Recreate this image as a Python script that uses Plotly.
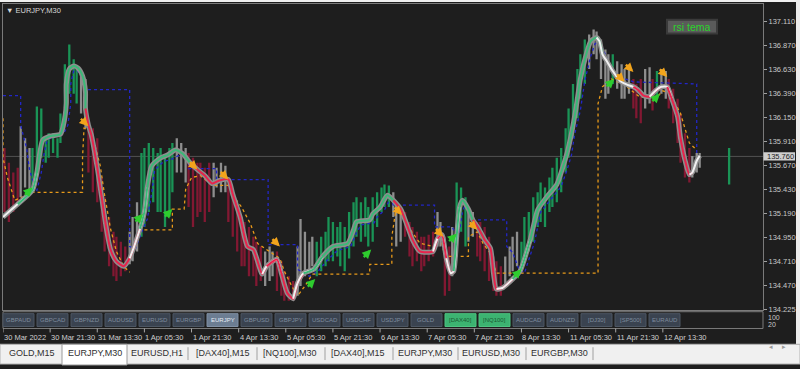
import plotly.graph_objects as go

# ---------------- data ----------------
# smoothed (TEMA-like) line: bar index / price
line_idx = [0, 10, 20, 23, 25, 27, 32, 39, 41, 43,
            43, 45, 48, 51, 54, 56, 56, 58, 60, 64,
            67, 70, 73, 77, 82, 86, 89, 93, 96, 98,
            101, 107, 112, 117, 122, 127, 132, 137, 142, 147,
            153, 156, 161, 166, 170, 176, 179, 186, 189, 193,
            197, 200, 204, 211, 217, 224, 234, 238, 240, 249,
            251, 256, 261, 265, 270, 274, 278, 283, 292, 295,
            298, 301, 304, 306, 308, 310, 312, 316, 319, 323,
            327, 331, 333, 335, 339, 346, 351, 358, 363, 369,
            376, 380, 383, 386, 389, 392, 396, 399, 403, 405,
            407, 410, 414, 419, 424, 428, 431, 435, 439, 443,
            447, 451, 454, 458, 460, 463, 466, 468, 471, 473]
line_price = [135.153, 135.282, 135.420, 135.598, 135.795, 135.924, 135.963, 135.983, 136.072, 136.289,
              136.487, 136.635, 136.665, 136.645, 136.566, 136.408, 136.240, 136.072, 135.973, 135.647,
              135.351, 135.055, 134.827, 134.709, 134.660, 134.739, 134.857, 135.035, 135.203, 135.450,
              135.667, 135.746, 135.776, 135.825, 135.786, 135.697, 135.628, 135.568, 135.489, 135.519,
              135.529, 135.381, 135.153, 134.857, 134.827, 134.581, 134.660, 134.729, 134.590, 134.393,
              134.334, 134.492, 134.590, 134.630, 134.758, 134.857, 134.887, 135.025, 135.104, 135.124,
              135.183, 135.252, 135.371, 135.321, 135.232, 135.084, 134.926, 134.808, 134.808, 134.936,
              134.976, 134.739, 134.590, 134.610, 134.956, 135.252, 135.321, 135.232, 135.124, 135.035,
              134.926, 134.837, 134.590, 134.432, 134.442, 134.531, 134.610, 134.926, 135.223, 135.351,
              135.479, 135.647, 135.795, 135.993, 136.240, 136.536, 136.783, 136.912, 136.951, 136.912,
              136.783, 136.714, 136.615, 136.516, 136.477, 136.457, 136.428, 136.368, 136.358, 136.418,
              136.457, 136.457, 136.339, 136.161, 135.944, 135.726, 135.578, 135.598, 135.716, 135.766]
# trend state segments of the line (start bar, state)
seg_start = [0, 20, 58, 89, 96, 132, 179, 186, 200, 211, 270, 295, 298, 304, 308, 323, 339, 351, 405, 429, 443, 452, 467]
seg_state = ['w', 'g', 'r', 'w', 'g', 'r', 'w', 'r', 'w', 'g', 'r', 'w', 'r', 'w', 'g', 'r', 'w', 'g', 'w', 'r', 'w', 'r', 'w']

# coloured high-low bars
bar_idx = [1, 4, 7, 10, 12, 15, 18, 20, 23, 26, 29, 31, 34, 37, 39, 42, 45, 48, 50, 53,
           56, 58, 61, 64, 67, 69, 72, 75, 77, 80, 83, 86, 88, 91, 94, 96, 99, 102, 105, 107,
           110, 113, 115, 118, 121, 124, 126, 129, 132, 134, 137, 140, 143, 145, 148, 151, 153, 156, 159, 162,
           164, 167, 170, 172, 175, 178, 181, 183, 186, 189, 191, 194, 197, 200, 202, 205, 208, 210, 213, 216,
           219, 221, 224, 227, 229, 232, 235, 238, 240, 243, 246, 248, 251, 254, 257, 259, 262, 265, 267, 270,
           273, 276, 278, 281, 284, 286, 289, 292, 295, 297, 300, 303, 305, 308, 311, 314, 316, 319, 322, 324,
           327, 330, 333, 335, 338, 341, 344, 346, 349, 352, 354, 357, 360, 363, 365, 368, 371, 373, 376, 379,
           382, 384, 387, 390, 392, 395, 398, 401, 403, 406, 409, 411, 414, 417, 420, 422, 425, 428, 430, 433,
           436, 439, 441, 444, 447, 450, 452, 455, 458, 460, 463, 466, 468, 471, 473, 493]
bar_high = [135.844, 135.696, 135.598, 135.647, 136.062, 135.943, 135.844, 135.844, 136.259, 136.239,
            135.943, 135.992, 135.992, 135.943, 136.190, 136.684, 136.882, 136.733, 136.635, 136.615,
            136.536, 136.091, 136.042, 135.943, 135.548, 135.351, 135.153, 135.005, 134.956, 134.906,
            134.857, 135.005, 135.153, 135.301, 135.795, 135.844, 135.894, 135.844, 135.795, 135.844,
            135.746, 135.844, 135.894, 135.943, 135.894, 135.844, 135.795, 135.746, 135.696, 135.696,
            135.647, 135.696, 135.696, 135.647, 135.696, 135.667, 135.548, 135.400, 135.252, 135.153,
            135.104, 135.054, 134.956, 134.906, 134.857, 134.807, 134.857, 134.807, 134.807, 134.709,
            134.610, 134.560, 134.511, 134.857, 135.133, 135.005, 134.906, 134.956, 134.906, 134.956,
            135.005, 135.153, 135.104, 135.054, 135.104, 135.054, 135.202, 135.301, 135.351, 135.301,
            135.351, 135.252, 135.351, 135.400, 135.449, 135.479, 135.469, 135.400, 135.301, 135.252,
            135.202, 135.104, 135.054, 135.005, 134.956, 134.956, 134.975, 135.005, 135.202, 135.104,
            134.956, 134.857, 135.054, 135.499, 135.449, 135.351, 135.202, 135.202, 135.104, 135.104,
            135.054, 134.956, 134.758, 134.709, 134.659, 134.758, 134.857, 134.956, 135.005, 134.906,
            135.153, 135.202, 135.351, 135.400, 135.499, 135.449, 135.548, 135.647, 135.746, 135.844,
            136.042, 136.239, 136.486, 136.635, 136.783, 136.931, 136.980, 137.030, 137.010, 136.931,
            136.832, 136.783, 136.783, 136.714, 136.684, 136.635, 136.635, 136.536, 136.486, 136.536,
            136.635, 136.654, 136.536, 136.615, 136.635, 136.615, 136.536, 136.437, 136.338, 136.190,
            135.992, 135.844, 135.765, 135.795, 135.795, 135.844]
bar_low = [135.202, 135.104, 135.202, 135.301, 135.351, 135.449, 135.400, 135.400, 135.548, 135.746,
           135.696, 135.746, 135.795, 135.746, 135.894, 136.239, 136.388, 136.388, 136.289, 136.190,
           136.042, 135.598, 135.400, 135.301, 135.005, 134.807, 134.659, 134.560, 134.511, 134.560,
           134.610, 134.679, 134.709, 134.807, 134.956, 135.054, 135.202, 135.301, 135.202, 135.202,
           135.054, 135.153, 135.400, 135.598, 135.598, 135.499, 135.252, 135.054, 135.153, 135.202,
           135.104, 135.202, 135.351, 135.449, 135.400, 135.400, 135.104, 134.956, 134.807, 134.659,
           134.659, 134.560, 134.560, 134.462, 134.511, 134.462, 134.511, 134.560, 134.412, 134.363,
           134.314, 134.314, 134.314, 134.363, 134.462, 134.560, 134.610, 134.659, 134.560, 134.610,
           134.659, 134.709, 134.709, 134.758, 134.659, 134.610, 134.738, 134.857, 134.956, 134.906,
           134.956, 134.857, 134.906, 135.054, 135.202, 135.252, 135.252, 135.153, 134.857, 134.906,
           134.956, 134.758, 134.659, 134.709, 134.610, 134.659, 134.709, 134.758, 134.857, 134.857,
           134.363, 134.412, 134.560, 134.956, 135.005, 134.857, 134.906, 134.956, 134.758, 134.709,
           134.610, 134.511, 134.412, 134.363, 134.363, 134.462, 134.560, 134.610, 134.659, 134.610,
           134.709, 134.807, 134.906, 135.054, 135.104, 135.054, 135.202, 135.252, 135.301, 135.400,
           135.598, 135.746, 135.943, 136.141, 136.338, 136.486, 136.635, 136.783, 136.733, 136.536,
           136.338, 136.388, 136.486, 136.437, 136.338, 136.338, 136.388, 136.239, 136.141, 136.091,
           136.239, 136.289, 136.220, 136.338, 136.388, 136.338, 136.239, 136.091, 135.894, 135.696,
           135.548, 135.499, 135.548, 135.598, 135.647, 135.479]
bar_col = list("rrrrwwwggggggggggggw"
               "wrrrrrrrrrrwwwgggggg"
               "gggwwwrrrrrrwwwwrrrr"
               "rrrrrwwwrrrrrwwwwwgg"
               "gggggggggggggggggwww"
               "rrrrrrrrwwrrwgggwwrr"
               "rrrrrwwwwggggggggggg"
               "ggggggwwwwwwgwwwwrrr"
               "wwrgwwrrrrrrwwwg")

# dotted band lines (None = gap)
blue_idx = [0, 12, 12, 16, 18, 22, 23, 26, 28, 30, 35, 41, 44, 46, 46, 48, 50, 53, 56, 86,
            86, 90, 94, 98, 101, 103, 109, 115, 120, 126, 126, 145, 145, 180, 180, 200, 200, 208, 214, 220,
            227, 236, 240, 243, 252, 254, 259, 263, 265, 293, 293, 305, 309, 312, 314, 317, 319, 342, 342, 346,
            350, 354, 361, 365, 372, 379, 383, 386, 388, 392, 395, 399, 402, 405, 408, 413, 419, 428, 471, 471]
blue_price = [136.368, 136.368, 136.072, 135.844, 135.627, 135.430, 135.420, 135.598, 135.795, 135.923,
              135.963, 135.983, 136.072, 136.289, 136.486, 136.615, 136.625, 136.575, 136.428, 136.428,
              134.857, 134.837, 134.995, 135.133, 135.400, 135.627, 135.706, 135.736, 135.775, 135.746,
              135.637, 135.637, 135.528, 135.528, 134.876, 134.876, 134.629, 134.560, 134.610, 134.718,
              134.817, 134.857, 134.995, 135.074, 135.094, 135.153, 135.222, 135.341, 135.272, 135.272,
              135.054, 135.054, 134.936, 135.202, 135.291, 135.212, 135.124, 135.124, 134.857, 134.798,
              134.640, 134.590, 134.906, 135.202, 135.331, 135.459, 135.627, 135.775, 135.973, 136.220,
              136.516, 136.763, 136.891, 136.911, 136.812, 136.635, 136.556, 136.506, 136.486, 135.795]
orange_idx = [0, 0, 3, 8, 13, 20, 54, 54, 55, 59, 62, 66, 69, 73, 77, 82, 86, None,
              96, 115, 115, 123, 124, 128, 134, 142, 153, 157, 162, 168, 173, 181, 188, 191, 196, 200,
              205, 210, 249, 249, 264, 264, 267, 270, 274, 283, 292, 297, 300, 316, 316, 322, 326, 331,
              335, 404, 404, 407, 413, 422, 432, 443, 448, 453, 460, 466, 471]
orange_price = [136.141, 135.746, 135.548, 135.321, 135.351, 135.400, 135.400, 135.746, 136.042, 136.022,
                135.894, 135.667, 135.370, 135.035, 134.807, 134.659, 134.600, None,
                135.025, 135.025, 135.232, 135.232, 135.430, 135.548, 135.568, 135.469, 135.469, 135.351,
                135.252, 135.084, 134.886, 134.807, 134.738, 134.610, 134.462, 134.363, 134.462, 134.580,
                134.580, 134.679, 134.679, 134.956, 135.252, 135.178, 135.079, 134.892, 134.857, 134.956,
                134.758, 134.758, 134.956, 135.005, 134.887, 134.788, 134.590, 134.590, 136.289, 136.457,
                136.536, 136.477, 136.358, 136.338, 136.417, 136.388, 136.190, 135.894, 135.825]

# signal arrows
sell_idx = [58, 132, 153, 188, 271, 299, 322, 422, 428, 451]
sell_price = [136.062, 135.628, 135.529, 134.857, 135.173, 134.956, 135.025, 136.507, 136.605, 136.556]
buy_idx = [20, 95, 115, 212, 250, 308, 352, 415, 446]
buy_price = [135.450, 135.183, 135.232, 134.531, 134.827, 134.986, 134.630, 136.536, 136.388]

bid_price = 135.760
price_ticks = [137.110, 136.870, 136.630, 136.390, 136.150, 135.910, 135.670,
               135.430, 135.190, 134.950, 134.710, 134.470, 134.225]
date_idx = [0, 32, 64, 96, 128, 160, 192, 224, 256, 288, 320, 352, 384, 416, 448]
date_labels = ["30 Mar 2022", "30 Mar 21:30", "31 Mar 13:30", "1 Apr 05:30", "1 Apr 21:30",
               "4 Apr 13:30", "5 Apr 05:30", "5 Apr 21:30", "6 Apr 13:30", "7 Apr 05:30",
               "7 Apr 21:30", "8 Apr 13:30", "11 Apr 05:30", "11 Apr 21:30", "12 Apr 13:30"]
buttons = ["GBPAUD", "GBPCAD", "GBPNZD", "AUDUSD", "EURUSD", "EURGBP", "EURJPY", "GBPUSD",
           "GBPJPY", "USDCAD", "USDCHF", "USDJPY", "GOLD", "[DAX40]", "[NQ100]", "AUDCAD",
           "AUDNZD", "[DJ30]", "[SP500]", "EURAUD"]
tabs = ["GOLD,M15", "EURJPY,M30", "EURUSD,H1", "[DAX40],M15", "[NQ100],M30",
        "[DAX40],M15", "EURJPY,M30", "EURUSD,M30", "EURGBP,M30"]

# ---------------- layout helpers ----------------
W, H = 800, 369
FONT = "Liberation Sans"
def px(x):
    return x / W
def py(y):
    return 1 - y / H

fig = go.Figure()

# bars
bar_colors = {'r': '#821832', 'g': '#1a9456', 'w': '#8e8e8e'}
for c, col in bar_colors.items():
    xs, ys = [], []
    for i, hi, lo, s in zip(bar_idx, bar_high, bar_low, bar_col):
        if s == c:
            xs += [i, i, None]
            ys += [lo, hi, None]
    fig.add_trace(go.Scatter(x=xs, y=ys, mode='lines', line=dict(color=col, width=2.3),
                             hoverinfo='skip', showlegend=False))

# dotted bands
fig.add_trace(go.Scatter(x=blue_idx, y=blue_price, mode='lines',
                         line=dict(color='#2226c8', width=1.3, dash='dot'),
                         hoverinfo='skip', showlegend=False))
fig.add_trace(go.Scatter(x=orange_idx, y=orange_price, mode='lines', connectgaps=False,
                         line=dict(color='#e89a1a', width=1.3, dash='dot'),
                         hoverinfo='skip', showlegend=False))

# thick smoothed line: grey outline then coloured core per segment
fig.add_trace(go.Scatter(x=line_idx, y=line_price, mode='lines',
                         line=dict(color='#8e8e8e', width=5, shape='spline', smoothing=0.6),
                         hoverinfo='skip', showlegend=False))
core_colors = {'w': '#f0f0f0', 'g': '#3cb878', 'r': '#e8234c'}
seg_end = seg_start[1:] + [10 ** 6]
for s0, s1, st in zip(seg_start, seg_end, seg_state):
    pts = [(i, p) for i, p in zip(line_idx, line_price) if s0 <= i <= s1]
    prev = [(i, p) for i, p in zip(line_idx, line_price) if i < s0]
    if prev:
        pts = [prev[-1]] + pts
    nxt = [(i, p) for i, p in zip(line_idx, line_price) if i > s1]
    if nxt:
        pts = pts + [nxt[0]]
    if len(pts) < 2:
        continue
    fig.add_trace(go.Scatter(x=[a for a, _ in pts], y=[b for _, b in pts], mode='lines',
                             line=dict(color=core_colors[st], width=2, shape='spline', smoothing=0.6),
                             hoverinfo='skip', showlegend=False))

shapes = []
annotations = []

# signal arrows (short arrows pointing to the signal point)
for i, p in zip(sell_idx, sell_price):
    annotations.append(dict(xref='x', yref='y', x=i, y=p, text='', showarrow=True,
                            ax=-9, ay=-9, arrowhead=2, arrowsize=0.75, arrowwidth=2.4,
                            arrowcolor='#f2a41c', standoff=0))
for i, p in zip(buy_idx, buy_price):
    annotations.append(dict(xref='x', yref='y', x=i, y=p, text='', showarrow=True,
                            ax=-9, ay=9, arrowhead=2, arrowsize=0.75, arrowwidth=2.4,
                            arrowcolor='#2ecc2e', standoff=0))

# bid line and price label
shapes.append(dict(type='line', xref='x', yref='y', x0=0, x1=516, y0=bid_price, y1=bid_price,
                   line=dict(color='#525252', width=1), layer='below'))
shapes.append(dict(type='rect', xref='paper', yref='y', x0=px(763.5), x1=px(795),
                   y0=bid_price - 0.042, y1=bid_price + 0.042,
                   fillcolor='#cfcfcf', line=dict(width=0)))
annotations.append(dict(xref='paper', yref='y', x=px(765), y=bid_price, text=f"{bid_price:.3f}",
                        xanchor='left', yanchor='middle', showarrow=False,
                        font=dict(family=FONT, size=7.5, color='#202020')))

# outer window chrome
shapes.append(dict(type='rect', xref='paper', yref='paper', x0=0, x1=1, y0=py(2), y1=1,
                   fillcolor='#f0f0f0', line=dict(width=0)))
shapes.append(dict(type='rect', xref='paper', yref='paper', x0=px(796), x1=1, y0=py(349), y1=1,
                   fillcolor='#ececec', line=dict(width=0)))
shapes.append(dict(type='rect', xref='paper', yref='paper', x0=0, x1=1, y0=0, y1=py(349),
                   fillcolor='#f0f0f0', line=dict(color='#b4b4b4', width=1)))
shapes.append(dict(type='rect', xref='paper', yref='paper', x0=px(62), x1=px(127), y0=py(370), y1=py(349),
                   fillcolor='#ffffff', line=dict(color='#9a9a9a', width=1)))

# sub window
shapes.append(dict(type='rect', xref='paper', yref='paper', x0=px(3), x1=px(763), y0=py(333), y1=py(316),
                   fillcolor='rgba(0,0,0,0)', line=dict(color='#7a7a7a', width=1)))
annotations.append(dict(xref='paper', yref='paper', x=px(766), y=py(322), text="100", xanchor='left',
                        yanchor='middle', showarrow=False, font=dict(family=FONT, size=7, color='#c8c8c8')))
annotations.append(dict(xref='paper', yref='paper', x=px(766), y=py(329), text="20", xanchor='left',
                        yanchor='middle', showarrow=False, font=dict(family=FONT, size=7, color='#c8c8c8')))

# symbol buttons
for i, name in enumerate(buttons):
    x0 = 3 + 34 * i
    fill, txt, brd = '#3a4350', '#7f8c9e', '#4c5663'
    if name == 'EURJPY':
        fill, txt, brd = '#6c7d92', '#e4ecf4', '#8090a4'
    if name in ('[DAX40]', '[NQ100]'):
        fill, txt, brd = '#3cb371', '#1d5a34', '#4cc381'
    shapes.append(dict(type='rect', xref='paper', yref='paper', x0=px(x0), x1=px(x0 + 31),
                       y0=py(331), y1=py(318), fillcolor=fill, line=dict(color=brd, width=1)))
    annotations.append(dict(xref='paper', yref='paper', x=px(x0 + 15.5), y=py(324.5), text=name,
                            xanchor='center', yanchor='middle', showarrow=False,
                            font=dict(family=FONT, size=6, color=txt)))

# date axis labels + ticks
for i, lab in zip(date_idx, date_labels):
    shapes.append(dict(type='line', xref='x', yref='paper', x0=i, x1=i, y0=py(337), y1=py(333),
                       line=dict(color='#a8a8a8', width=1)))
    annotations.append(dict(xref='x', yref='paper', x=i, y=py(342), text=lab, xanchor='left',
                            yanchor='middle', xshift=-1, showarrow=False,
                            font=dict(family=FONT, size=7.5, color='#cfcfcf')))

# title & rsi tema button
annotations.append(dict(xref='paper', yref='paper', x=px(4), y=py(11), text="▼ EURJPY,M30",
                        xanchor='left', yanchor='middle', showarrow=False,
                        font=dict(family=FONT, size=7.5, color='#d8d8d8')))
shapes.append(dict(type='rect', xref='paper', yref='paper', x0=px(667), x1=px(717), y0=py(34), y1=py(20),
                   fillcolor='#5a5a5a', line=dict(color='#3a3a3a', width=2)))
annotations.append(dict(xref='paper', yref='paper', x=px(692), y=py(27), text="rsi tema",
                        xanchor='center', yanchor='middle', showarrow=False,
                        font=dict(family=FONT, size=10.5, color='#2bd42b')))

# tab bar
tab_x = [32, 95, 157, 223, 290, 358, 425, 491, 559]
for t, x in zip(tabs, tab_x):
    annotations.append(dict(xref='paper', yref='paper', x=px(x), y=py(358), text=t,
                            xanchor='center', yanchor='middle', showarrow=False,
                            font=dict(family=FONT, size=9, color='#303030')))
for x in [188, 257, 325, 393, 458, 526, 593]:
    shapes.append(dict(type='line', xref='paper', yref='paper', x0=px(x), x1=px(x), y0=py(365), y1=py(352),
                       line=dict(color='#a0a0a0', width=1)))
annotations.append(dict(xref='paper', yref='paper', x=px(775), y=py(358), text="◂", showarrow=False,
                        font=dict(family="DejaVu Sans", size=7, color='#9a9a9a')))
annotations.append(dict(xref='paper', yref='paper', x=px(788), y=py(358), text="▸", showarrow=False,
                        font=dict(family="DejaVu Sans", size=7, color='#9a9a9a')))

fig.update_layout(
    width=W, height=H, margin=dict(l=0, r=0, t=0, b=0),
    paper_bgcolor='#1e1e1e', plot_bgcolor='#1e1e1e',
    showlegend=False, shapes=shapes, annotations=annotations,
    xaxis=dict(domain=[px(3), px(763)], range=[0, 516], showgrid=False, zeroline=False,
               showticklabels=False, ticks='', showline=True, mirror=True,
               linecolor='#7a7a7a', linewidth=1, fixedrange=True),
    yaxis=dict(domain=[py(314), py(4)], range=[134.224, 137.287], side='right',
               tickvals=price_ticks, ticktext=[f"{v:.3f}" for v in price_ticks],
               ticks='outside', ticklen=3, tickcolor='#a0a0a0',
               tickfont=dict(family=FONT, size=7.5, color='#c8c8c8'),
               showgrid=False, zeroline=False, showline=True, mirror=True,
               linecolor='#7a7a7a', linewidth=1, fixedrange=True),
)

fig.write_html("out.html")
